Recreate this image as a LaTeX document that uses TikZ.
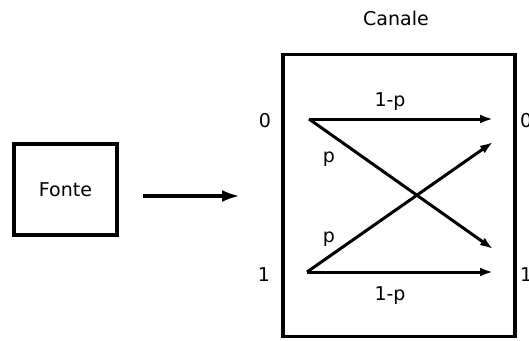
\documentclass[tikz,border=0pt]{standalone}
\usepackage{fontspec}
\setmainfont{DejaVu Sans}
\usetikzlibrary{arrows.meta}

\begin{document}
\begin{tikzpicture}[x=1pt,y=-1pt]
                \tikzstyle{every node}=[font=\fontsize{19}{22}\selectfont]
                \tikzstyle{box}=[draw,line width=3.4pt,inner sep=0pt]
                \tikzstyle{wire}=[line width=3pt,-{Latex[length=13pt,width=9pt]}]
                \tikzstyle{feed}=[line width=3.8pt,-{Latex[length=18pt,width=12pt]}]
                \tikzstyle{lbl}=[anchor=base,inner sep=0pt]
                \useasboundingbox (0,0) rectangle (529,340);

                % source and channel
                \node[box,minimum width=103pt,minimum height=91pt] (fonte) at (65.5,189.5) {Fonte};
                \node[box,minimum width=232pt,minimum height=282pt] (canale) at (399,195.5) {};
                \node[lbl] (titolo) at (396,25) {Canale};

                \coordinate (src) at (143,196);
                \coordinate (dst) at (240,196);
                \draw[feed] (src) -- (dst);

                % binary symmetric channel
                \node[lbl] (in0) at (265,127) {0};
                \node[lbl] (in1) at (264,281) {1};
                \node[lbl,anchor=base west] (out0) at (520,127) {0};
                \node[lbl,anchor=base west] (out1) at (520,281) {1};

                \coordinate (x0) at (309,119);
                \coordinate (x1) at (307,272);
                \coordinate (y0) at (493,119);
                \coordinate (y1) at (493,272);
                \coordinate (y0c) at (493,142);
                \coordinate (y1c) at (493,249);

                \draw[wire] (x0) -- (y0);
                \draw[wire] (x0) -- (y1c);
                \draw[wire] (x1) -- (y0c);
                \draw[wire] (x1) -- (y1);

                \node[lbl] (q0) at (390,106) {1-p};
                \node[lbl] (q1) at (390,300) {1-p};
                \node[lbl] (p0) at (329,162.7) {p};
                \node[lbl] (p1) at (329,242.7) {p};
            \end{tikzpicture}
\end{document}
